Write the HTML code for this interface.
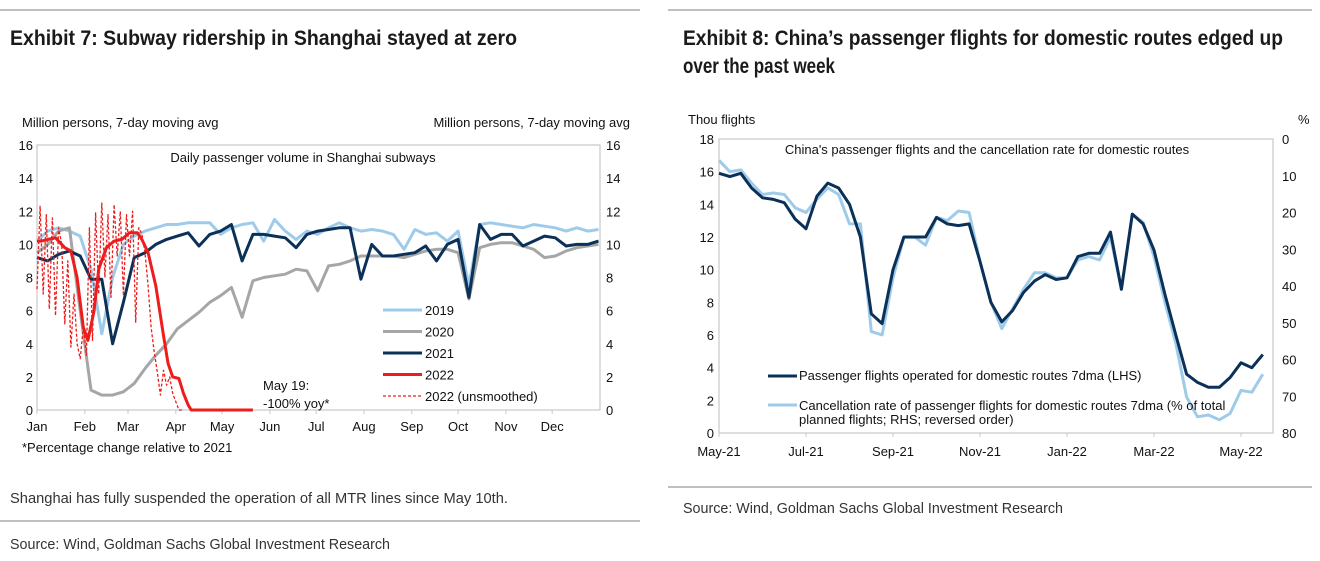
<!DOCTYPE html>
<html><head><meta charset="utf-8"><style>
html,body{margin:0;padding:0;background:#fff;}
svg{display:block;font-family:"Liberation Sans",Arial,sans-serif;}
.hdr{font-family:"Liberation Sans Narrow","Liberation Sans",sans-serif;font-weight:bold;font-size:21px;fill:#1a1a1a;}
.note{font-family:"Liberation Sans Narrow","Liberation Sans",sans-serif;font-size:15px;fill:#333;}
.tk{font-size:13px;fill:#111;}
</style></head><body>
<svg id="page" width="1320" height="561" viewBox="0 0 1320 561">
<line x1="0" y1="10" x2="640" y2="10" stroke="#999" stroke-width="1.2"/>
<line x1="668" y1="10" x2="1312" y2="10" stroke="#999" stroke-width="1.2"/>
<text class="hdr" x="10" y="45" textLength="507" lengthAdjust="spacingAndGlyphs">Exhibit 7: Subway ridership in Shanghai stayed at zero</text>
<text class="hdr" x="683" y="45" textLength="600" lengthAdjust="spacingAndGlyphs">Exhibit 8: China’s passenger flights for domestic routes edged up</text>
<text class="hdr" x="683" y="73" textLength="152" lengthAdjust="spacingAndGlyphs">over the past week</text>
<text class="note" x="10" y="503" textLength="498" lengthAdjust="spacingAndGlyphs">Shanghai has fully suspended the operation of all MTR lines since May 10th.</text>
<line x1="0" y1="521" x2="640" y2="521" stroke="#999" stroke-width="1.2"/>
<text class="note" x="10" y="549" textLength="380" lengthAdjust="spacingAndGlyphs">Source: Wind, Goldman Sachs Global Investment Research</text>
<line x1="668" y1="487" x2="1312" y2="487" stroke="#999" stroke-width="1.2"/>
<text class="note" x="683" y="513" textLength="380" lengthAdjust="spacingAndGlyphs">Source: Wind, Goldman Sachs Global Investment Research</text>

<g id="chart1"></g>
<g id="chart2"></g>
</svg>
<script>
// ---------- Chart 1 data ----------
const months1 = ["Jan","Feb","Mar","Apr","May","Jun","Jul","Aug","Sep","Oct","Nov","Dec"];
const monthStartDays = [0,31,59,90,120,151,181,212,243,273,304,334];
const yTicks1 = [0,2,4,6,8,10,12,14,16];
const s2019 = [10.2,10.8,11.0,10.8,10.5,8.5,4.6,8.0,10.0,10.5,10.8,11.0,11.2,11.2,11.3,11.3,11.3,10.6,11.0,11.2,11.3,10.2,11.5,10.8,10.3,10.8,10.6,11.0,11.3,11.0,10.8,10.9,10.8,10.6,9.7,10.9,10.6,10.7,10.2,10.8,7.5,11.2,11.3,11.2,11.1,11.0,11.2,11.1,11.0,10.8,11.0,10.8,10.9];
const s2020 = [9.5,10.0,10.8,11.0,6.0,1.2,0.9,0.9,1.1,1.6,2.5,3.3,4.0,4.9,5.4,5.9,6.5,6.9,7.4,5.6,7.8,8.0,8.1,8.2,8.5,8.4,7.2,8.7,8.8,9.0,9.3,9.3,9.3,9.3,9.2,9.4,9.6,9.7,9.7,9.5,6.7,9.8,10.0,10.1,10.1,9.9,9.7,9.2,9.3,9.6,9.8,9.9,10.0];
const s2021 = [9.2,9.0,9.4,9.6,9.3,7.9,7.9,4.0,6.5,9.2,9.5,10.0,10.3,10.5,10.7,9.9,10.6,10.8,11.2,9.0,10.6,10.6,10.5,10.4,9.8,10.6,10.8,10.9,11.0,11.0,7.9,10.0,9.3,9.3,9.4,9.5,9.9,9.0,10.0,10.3,6.8,11.2,10.3,10.6,10.6,9.9,10.2,10.5,10.4,9.9,10.0,10.0,10.2];
const d2022 = [0,3,7,12,18,22,26,30,33,37,40,45,50,55,60,65,68,72,77,82,85,88,92,95,98,100,140];
const s2022 = [10.2,10.2,10.3,10.4,9.8,9.6,8.0,5.0,4.2,6.0,8.5,9.8,10.2,10.3,10.7,10.7,10.3,9.5,7.5,4.5,2.8,2.0,1.9,1.0,0.3,0,0];
const uDays = [0,2,4,6,8,10,12,14,16,18,20,22,24,26,28,30,32,34,36,38,40,42,44,46,48,50,52,54,56,58,60,62,64,66,68,70,72,74,76,78,80,82,84,86,88,90,92,94];
const uVals = [7.3,12.3,7.0,11.8,6.1,11.6,5.7,11.0,10.0,5.2,9.0,3.8,7.0,4.0,3.1,5.0,3.3,11.0,4.2,11.9,7.0,12.5,8.0,11.8,6.8,12.4,9.3,12.0,6.9,11.8,9.3,12.0,5.3,11.0,10.6,9.5,7.5,5.0,3.5,2.3,0.9,2.4,1.5,2.0,1.0,0.5,0,0];

// ---------- Chart 2 data ----------
const months2 = ["May-21","Jul-21","Sep-21","Nov-21","Jan-22","Mar-22","May-22"];
const yTicksL = [0,2,4,6,8,10,12,14,16,18];
const yTicksR = [0,10,20,30,40,50,60,70,80];
const flights = [15.9,15.7,15.9,15.0,14.4,14.3,14.1,13.1,12.5,14.5,15.3,15.0,14.0,12.0,7.3,6.7,10.0,12.0,12.0,12.0,13.2,12.8,12.7,12.8,10.5,8.0,6.8,7.5,8.6,9.3,9.7,9.4,9.5,10.8,11.0,11.0,12.3,8.8,13.4,12.8,11.2,8.5,6.0,3.6,3.1,2.8,2.8,3.4,4.3,4.0,4.8];
const cancelPct = [5.8,8.9,8.4,12.0,15.1,14.7,15.1,18.7,20.0,16.4,13.3,15.1,23.1,23.1,52.4,53.3,37.8,26.7,26.7,28.9,21.3,22.2,19.6,20.0,33.3,44.4,51.6,46.2,40.9,36.4,36.4,37.8,37.8,32.9,32.0,32.9,26.7,40.9,20.4,22.7,32.0,44.4,55.6,70.2,75.6,75.1,76.4,74.7,68.4,68.9,64.0];

const NS="http://www.w3.org/2000/svg";
function mk(parent,tag,attrs,text){const e=document.createElementNS(NS,tag);for(const k in attrs)e.setAttribute(k,attrs[k]);if(text!==undefined)e.textContent=text;parent.appendChild(e);return e;}

// ---- Chart 1 ----
(function(){
const g=document.getElementById('chart1');
const L=37,R=600,T=145,B=410;
const x=d=>L+d*(R-L)/365, y=v=>B-v*(B-T)/16;
const box=mk(g,'rect',{x:L,y:T,width:R-L,height:B-T,fill:'none',stroke:'#c8c8c8','stroke-width':1.2});


yTicks1.forEach(v=>{
 const a=mk(g,'text',{x:33,y:y(v)+5,'text-anchor':'end',class:'tk'},String(v));
 
 
 const b=mk(g,'text',{x:606,y:y(v)+5,class:'tk'},String(v));
 
 
});
months1.forEach((m,i)=>{
 const t=mk(g,'text',{x:x(monthStartDays[i]),y:431,'text-anchor':'middle',class:'tk'},m);
 
 
 mk(g,'line',{x1:x(monthStartDays[i]),x2:x(monthStartDays[i]),y1:B,y2:B+4,stroke:'#c8c8c8'});
});
function line(days,vals,color,w,dash,name){
 const p=mk(g,'polyline',{points:days.map((d,i)=>x(d).toFixed(1)+','+y(vals[i]).toFixed(1)).join(' '),fill:'none',stroke:color,'stroke-width':w,'stroke-linejoin':'round'});
 if(dash)p.setAttribute('stroke-dasharray',dash);
 
 
}
const wk=s2019.map((_,i)=>Math.min(364,i*7));
line(wk,s2019,'#9fcbea',3,null,'series-2019');
line(wk,s2020,'#a6a6a6',3,null,'series-2020');
line(wk,s2021,'#0b3158',3,null,'series-2021');
line(uDays,uVals,'#ee1c1c',1.3,'3,2','series-2022-unsmoothed');
line(d2022,s2022,'#ee1c1c',3,null,'series-2022');
const labs=[["Million persons, 7-day moving avg",22,127,'start'],["Million persons, 7-day moving avg",630,127,'end']];
labs.forEach((l,i)=>{const t=mk(g,'text',{x:l[1],y:l[2],'text-anchor':l[3],class:'tk'},l[0]);
 
 });
const ct=mk(g,'text',{x:303,y:162,'text-anchor':'middle',class:'tk'},'Daily passenger volume in Shanghai subways');


const fn=mk(g,'text',{x:22,y:452,class:'tk'},'*Percentage change relative to 2021');


const a1=mk(g,'text',{x:263,y:390,class:'tk',fill:'#ee1c1c'},'May 19:');


const a2=mk(g,'text',{x:263,y:408,class:'tk',fill:'#ee1c1c'},'-100% yoy*');


const leg=[['2019','#9fcbea',3,null],['2020','#a6a6a6',3,null],['2021','#0b3158',3,null],['2022','#ee1c1c',3,null],['2022 (unsmoothed)','#ee1c1c',1.3,'3,2']];
leg.forEach((l,i)=>{const yy=310+i*21.5;
 const ln=mk(g,'line',{x1:383,x2:422,y1:yy,y2:yy,stroke:l[1],'stroke-width':l[2]});
 if(l[3])ln.setAttribute('stroke-dasharray',l[3]);
 const t=mk(g,'text',{x:425,y:yy+5,class:'tk'},l[0]);
 
 });
})();

// ---- Chart 2 ----
(function(){
const g=document.getElementById('chart2');
const L=719,R=1273,T=139,B=433,PM=(1241-719)/12;
const x=m=>L+m*PM, yL=v=>B-v*(B-T)/18, yR=p=>T+p*(B-T)/80;
const box=mk(g,'rect',{x:L,y:T,width:R-L,height:B-T,fill:'none',stroke:'#c8c8c8','stroke-width':1.2});


yTicksL.forEach(v=>{const t=mk(g,'text',{x:714,y:yL(v)+5,'text-anchor':'end',class:'tk'},String(v));
 
 });
yTicksR.forEach(v=>{const t=mk(g,'text',{x:1282,y:yR(v)+5,class:'tk'},String(v));
 
 });
months2.forEach((m,i)=>{const t=mk(g,'text',{x:x(i*2),y:456,'text-anchor':'middle',class:'tk'},m);
 
 
 mk(g,'line',{x1:x(i*2),x2:x(i*2),y1:B,y2:B+4,stroke:'#c8c8c8'});});
const mm=flights.map((_,i)=>i*0.25);
const p1=mk(g,'polyline',{points:mm.map((m,i)=>x(m).toFixed(1)+','+yR(cancelPct[i]).toFixed(1)).join(' '),fill:'none',stroke:'#9fcbea','stroke-width':3,'stroke-linejoin':'round'});


const p2=mk(g,'polyline',{points:mm.map((m,i)=>x(m).toFixed(1)+','+yL(flights[i]).toFixed(1)).join(' '),fill:'none',stroke:'#0b3158','stroke-width':3,'stroke-linejoin':'round'});


const t1=mk(g,'text',{x:688,y:124,class:'tk'},'Thou flights');


const t2=mk(g,'text',{x:1298,y:124,class:'tk'},'%');


const ct=mk(g,'text',{x:987,y:154,'text-anchor':'middle',class:'tk'},"China's passenger flights and the cancellation rate for domestic routes");


mk(g,'line',{x1:768,x2:797,y1:376,y2:376,stroke:'#0b3158','stroke-width':3});
const l1=mk(g,'text',{x:799,y:380,class:'tk','font-size':'12'},'Passenger flights operated for domestic routes 7dma (LHS)');


mk(g,'line',{x1:768,x2:797,y1:405,y2:405,stroke:'#9fcbea','stroke-width':3});
const l2=mk(g,'text',{x:799,y:410,class:'tk','font-size':'12'},'Cancellation rate of passenger flights for domestic routes 7dma (% of total');


const l3=mk(g,'text',{x:799,y:424,class:'tk','font-size':'12'},'planned flights; RHS; reversed order)');


})();
</script>
</body></html>
